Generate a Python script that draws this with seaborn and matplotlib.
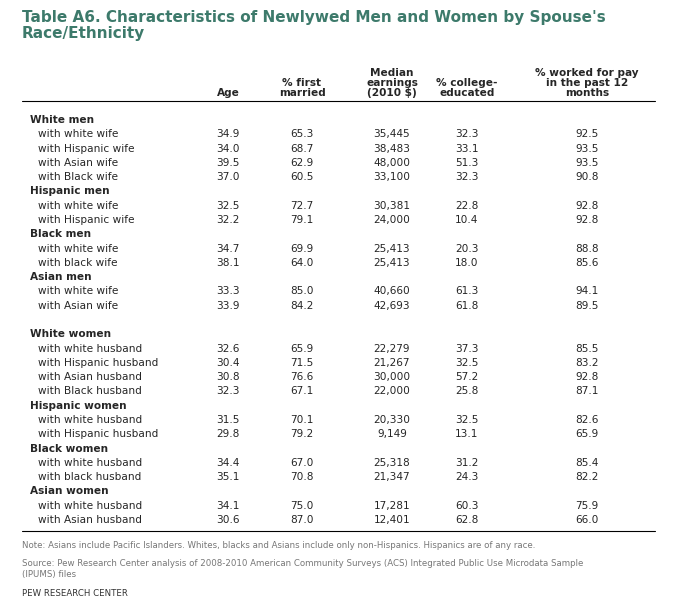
import matplotlib
matplotlib.use("Agg")
import matplotlib.pyplot as plt
import seaborn as sns

sns.set_style("white")
plt.rcParams['font.family'] = ['DejaVu Sans']

# table data
row_labels = ["White men", "with white wife", "with Hispanic wife", "with Asian wife", "with Black wife",
              "Hispanic men", "with white wife", "with Hispanic wife",
              "Black men", "with white wife", "with black wife",
              "Asian men", "with white wife", "with Asian wife",
              "",
              "White women", "with white husband", "with Hispanic husband", "with Asian husband", "with Black husband",
              "Hispanic women", "with white husband", "with Hispanic husband",
              "Black women", "with white husband", "with black husband",
              "Asian women", "with white husband", "with Asian husband"]
age = ["", "34.9", "34.0", "39.5", "37.0", "", "32.5", "32.2", "", "34.7", "38.1", "", "33.3", "33.9", "",
       "", "32.6", "30.4", "30.8", "32.3", "", "31.5", "29.8", "", "34.4", "35.1", "", "34.1", "30.6"]
first_married = ["", "65.3", "68.7", "62.9", "60.5", "", "72.7", "79.1", "", "69.9", "64.0", "", "85.0", "84.2", "",
                 "", "65.9", "71.5", "76.6", "67.1", "", "70.1", "79.2", "", "67.0", "70.8", "", "75.0", "87.0"]
earnings = ["", "35,445", "38,483", "48,000", "33,100", "", "30,381", "24,000", "", "25,413", "25,413", "", "40,660", "42,693", "",
            "", "22,279", "21,267", "30,000", "22,000", "", "20,330", "9,149", "", "25,318", "21,347", "", "17,281", "12,401"]
college = ["", "32.3", "33.1", "51.3", "32.3", "", "22.8", "10.4", "", "20.3", "18.0", "", "61.3", "61.8", "",
           "", "37.3", "32.5", "57.2", "25.8", "", "32.5", "13.1", "", "31.2", "24.3", "", "60.3", "62.8"]
worked = ["", "92.5", "93.5", "93.5", "90.8", "", "92.8", "92.8", "", "88.8", "85.6", "", "94.1", "89.5", "",
          "", "85.5", "83.2", "92.8", "87.1", "", "82.6", "65.9", "", "85.4", "82.2", "", "75.9", "66.0"]
headers = ["Age", "% first\nmarried", "Median\nearnings\n(2010 $)", "% college-\neducated",
           "% worked for pay\nin the past 12\nmonths"]

W, H = 680, 612
fig = plt.figure(figsize=(6.8, 6.12), dpi=100)
ax = fig.add_axes([0, 0, 1, 1])
ax.set_xlim(0, W)
ax.set_ylim(H, 0)
ax.axis("off")

title_color = "#3d7a6b"
ax.text(22, 10, "Table A6. Characteristics of Newlywed Men and Women by Spouse's\nRace/Ethnicity",
        fontsize=11, fontweight="bold", color=title_color, va="top", ha="left", linespacing=1.1)

col_x = [228, 302, 392, 467, 587]
for x, h in zip(col_x, headers):
    ax.text(x, 98, h, fontsize=7.6, fontweight="bold", ha="center", va="bottom", linespacing=1.0)
ax.plot([22, 655], [101, 101], color="black", lw=0.8)

y0, dy = 120, 400 / 28
columns = [age, first_married, earnings, college, worked]
for i, lab in enumerate(row_labels):
    y = y0 + i * dy
    is_group = lab != "" and not lab.startswith("with")
    ax.text(30 if is_group else 38, y, lab, fontsize=7.6, va="center", ha="left",
            fontweight="bold" if is_group else "normal")
    for x, col in zip(col_x, columns):
        ax.text(x, y, col[i], fontsize=7.6, va="center", ha="center")
ax.plot([22, 655], [531, 531], color="black", lw=0.8)

grey = "#777777"
ax.text(22, 545, "Note: Asians include Pacific Islanders. Whites, blacks and Asians include only non-Hispanics. Hispanics are of any race.",
        fontsize=6.2, color=grey, va="center")
ax.text(22, 569, "Source: Pew Research Center analysis of 2008-2010 American Community Surveys (ACS) Integrated Public Use Microdata Sample\n(IPUMS) files",
        fontsize=6.2, color=grey, va="center", linespacing=1.2)
ax.text(22, 593, "PEW RESEARCH CENTER", fontsize=6.2, color="#333333", va="center")

fig.savefig("out.png", dpi=100)
